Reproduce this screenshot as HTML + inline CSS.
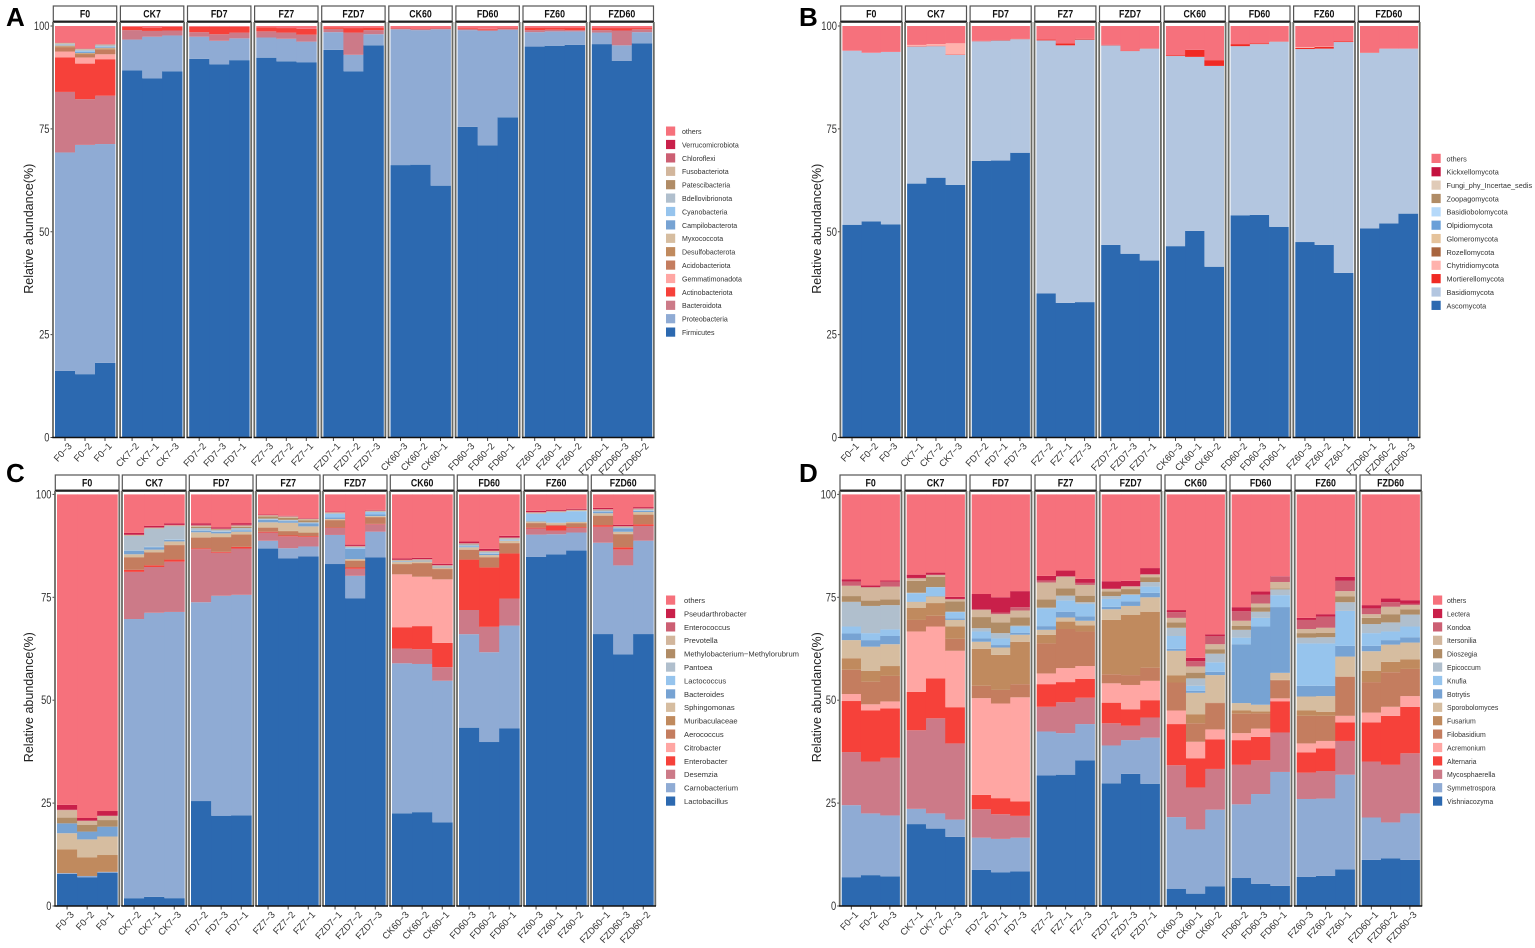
<!DOCTYPE html>
<html lang="en">
<head>
<meta charset="utf-8">
<title>Relative abundance stacked bars</title>
<style>
html,body{margin:0;padding:0;background:#fff;width:1535px;height:948px;overflow:hidden}
svg{display:block;font-family:"Liberation Sans",sans-serif}
</style>
</head>
<body>
<svg id="figure" width="1535" height="948" viewBox="0 0 1535 948" xmlns="http://www.w3.org/2000/svg"></svg>
<script>
/* Shared categories */
const facetNames = ["F0","CK7","FD7","FZ7","FZD7","CK60","FD60","FZ60","FZD60"];
const yTickValues = [0,25,50,75,100];
const yTitle = "Relative abundance(%)";

/* Replicate numbers per facet, in plotted order */
const aReplicates = [3,2,1, 2,1,3, 2,3,1, 3,2,1, 1,2,3, 3,2,1, 3,2,1, 3,1,2, 1,3,2];
const bReplicates = [1,2,3, 1,2,3, 2,1,3, 2,1,3, 2,3,1, 3,1,2, 2,3,1, 3,2,1, 1,2,3];
const cReplicates = [3,2,1, 2,1,3, 2,3,1, 3,2,1, 1,2,3, 3,2,1, 3,2,1, 3,1,2, 1,3,2];
const dReplicates = [1,2,3, 1,2,3, 2,1,3, 2,1,3, 2,3,1, 3,1,2, 2,3,1, 3,2,1, 1,2,3];

/* Panel A: bacterial phyla, bottom to top */
const aTaxa = ["Firmicutes","Proteobacteria","Bacteroidota","Actinobacteriota","Gemmatimonadota","Acidobacteriota","Desulfobacterota","Myxococcota","Campilobacterota","Cyanobacteria","Bdellovibrionota","Patescibacteria","Fusobacteriota","Chloroflexi","Verrucomicrobiota","others"];
const aFirmicutes = [16.2,15.5,18.2,89.2,87.3,89,92,90.7,91.7,92.3,91.4,91.2,94.2,89,95.3,66.2,66.3,61.2,75.5,71,77.8,95,95.2,95.4,95.6,91.5,95.8];
const aProteobacteria = [53,56.1,53.4,7.5,10.1,8.7,5.4,5.7,5.3,4.9,5.5,5,4.3,4,2.7,33,32.7,38,23.5,27.8,21.3,3.5,3.5,3.3,2.8,3.8,2.7];
const aBacteroidota = [14.7,11.2,11.8,2.3,1.4,1.2,1.1,1.6,1.4,1.5,1.5,1.7,.8,5.4,1,.2,.3,.2,.3,.3,.3,.5,.4,.3,.6,3.6,.7];
const aActinobacteriota = [8.4,8.7,8.9,.8,.8,.9,1.3,1.8,1.4,1,1.1,1.4,.4,1.1,.6,.1,.1,.1,.2,.2,.2,.6,.5,.6,.5,.6,.3];
const aGemmatimonadota = [1.4,1.5,1.2,0,0,0,0,0,0,0,0,0,0,0,0,0,0,0,0,0,0,0,0,0,0,0,0];
const aAcidobacteriota = [1,.6,1.1,0,0,0,0,0,0,0,0,0,0,0,0,0,0,0,0,0,0,0,0,0,0,0,0];
const aDesulfobacterota = [.3,.4,.3,0,0,0,0,0,0,0,0,0,0,0,0,0,0,0,0,0,0,0,0,0,0,0,0];
const aMyxococcota = [.2,.1,.2,0,0,0,0,0,0,0,0,0,0,0,0,0,0,0,0,0,0,0,0,0,0,0,0];
const aCampilobacterota = [.1,.3,.2,0,0,0,0,0,0,0,0,0,0,0,0,0,0,0,0,0,0,0,0,0,0,0,0];
const aCyanobacteria = [0,.2,.1,0,0,0,0,0,0,0,0,0,0,0,0,0,0,0,0,0,0,0,0,0,0,0,0];
const aBdellovibrionota = [.3,.3,.3,0,0,0,0,0,0,0,0,0,0,0,0,0,0,0,0,0,0,0,0,0,0,0,0];
const aPatescibacteria = [.1,.1,.1,0,0,0,0,0,0,0,0,0,0,0,0,0,0,0,0,0,0,0,0,0,0,0,0];
const aFusobacteriota = [.1,.1,.1,0,0,0,0,0,0,0,0,0,0,0,0,0,0,0,0,0,0,0,0,0,0,0,0];
const aChloroflexi = [.1,.1,.1,0,0,0,0,0,0,0,0,0,0,0,0,0,0,0,0,0,0,0,0,0,0,0,0];
const aVerrucomicrobiota = [0,0,0,0,0,0,0,0,0,0,0,0,0,0,0,0,0,0,0,0,0,0,0,0,0,0,0];
const aOthers = [4,5.5,4.4,.2,.4,.2,.2,.2,.2,.3,.5,.7,.3,.5,.4,.5,.6,.5,.5,.7,.4,.4,.4,.4,.5,.5,.5];
const aSeries = [aFirmicutes,aProteobacteria,aBacteroidota,aActinobacteriota,aGemmatimonadota,aAcidobacteriota,aDesulfobacterota,aMyxococcota,aCampilobacterota,aCyanobacteria,aBdellovibrionota,aPatescibacteria,aFusobacteriota,aChloroflexi,aVerrucomicrobiota,aOthers];

/* Panel B: fungal phyla, bottom to top */
const bTaxa = ["Ascomycota","Basidiomycota","Mortierellomycota","Chytridiomycota","Rozellomycota","Glomeromycota","Olpidiomycota","Basidiobolomycota","Zoopagomycota","Fungi_phy_Incertae_sedis","Kickxellomycota","others"];
const bAscomycota = [51.7,52.5,51.8,61.7,63.2,61.4,67.2,67.3,69.2,35,32.7,32.9,46.8,44.7,43,46.5,50.2,41.5,54,54.1,51.2,47.5,46.8,40,50.8,52,54.4];
const bBasidiomycota = [42.3,41,41.9,33.3,32,31.6,29.1,29.2,27.6,61.5,62.6,63.8,48.5,49.3,51.5,46.2,42.3,48.8,41.1,41.5,45,46.9,47.7,56.1,42.7,42.5,40.1];
const bMortierellomycota = [0,0,0,.1,.1,.1,.1,.1,.1,.2,.5,.2,.1,.1,.1,.2,1.7,1.4,.5,.2,.1,.3,.4,.2,.1,0,0];
const bChytridiomycota = [0,0,0,.3,.4,2.7,0,0,0,0,0,0,0,0,0,0,0,0,0,0,0,.2,.1,0,0,0,0];
const bRozellomycota = [0,0,0,0,0,0,0,0,0,0,0,0,0,0,0,0,0,0,0,0,0,0,0,0,0,0,0];
const bGlomeromycota = [0,0,0,0,0,0,0,0,0,0,0,0,0,0,0,0,0,0,0,0,0,0,0,0,0,0,0];
const bOlpidiomycota = [0,0,0,0,0,0,0,0,0,0,0,0,0,0,0,0,0,0,0,0,0,0,0,0,0,0,0];
const bBasidiobolomycota = [0,0,0,0,0,0,0,0,0,0,0,0,0,0,0,0,0,0,0,0,0,0,0,0,0,0,0];
const bZoopagomycota = [0,0,0,0,0,0,0,0,0,0,0,0,0,0,0,0,0,0,0,0,0,0,0,0,0,0,0];
const bFungiPhy = [0,0,0,0,0,0,0,0,0,0,0,0,0,0,0,0,0,0,0,0,0,0,0,0,0,0,0];
const bKickxellomycota = [0,0,0,0,0,0,0,0,0,0,0,0,0,0,0,0,0,0,0,0,0,0,0,0,0,0,0];
const bOthers = [6,6.5,6.3,4.6,4.4,4.2,3.6,3.4,3.1,3.3,4.2,3.1,4.6,6,5.4,7.1,5.8,8.3,4.4,4.2,3.7,5.1,5,3.7,6.4,5.5,5.5];
const bSeries = [bAscomycota,bBasidiomycota,bMortierellomycota,bChytridiomycota,bRozellomycota,bGlomeromycota,bOlpidiomycota,bBasidiobolomycota,bZoopagomycota,bFungiPhy,bKickxellomycota,bOthers];

/* Panel C: bacterial genera, bottom to top */
const cTaxa = ["Lactobacillus","Carnobacterium","Desemzia","Enterobacter","Citrobacter","Aerococcus","Muribaculaceae","Sphingomonas","Bacteroides","Lactococcus","Pantoea","Methylobacterium\u2212Methylorubrum","Prevotella","Enterococcus","Pseudarthrobacter","others"];
const cLactobacillus = [7.8,7,8.1,1.9,2.2,1.9,25.5,22,22.1,87.1,84.6,85.3,83.5,74.1,85.1,22.6,22.8,20.4,43.5,40,43.3,85.1,85.6,86.7,66.4,61.3,66.4];
const cCarnobacterium = [.2,.3,.2,68.1,68.9,69.4,48.3,53.6,53.8,1.9,2.5,2.4,7.1,5.4,6.3,36.6,36,34.5,22.8,21.9,25.1,5.4,4.9,4.4,22.3,21.7,22.8];
const cDesemzia = [0,0,0,11.5,11.1,12.2,12.9,10.5,11.3,2,2.9,2.3,1.7,1.7,1.8,3.6,3.6,3.3,5.9,6.2,6.6,1.5,.9,1.1,3.9,3.9,3.6];
const cEnterobacter = [0,0,0,.5,.4,.5,.2,.2,.4,.2,.2,.2,.1,.3,.1,5.2,5.6,5.9,12.3,14.5,11,.2,1.2,.2,.4,.5,.4];
const cCitrobacter = [0,0,0,0,0,0,0,0,0,0,0,0,0,0,0,12.9,12,15.5,0,0,0,0,0,0,0,0,0];
const cAerococcus = [0,0,0,3,3.1,3.5,2.6,3.5,3,1,1,.8,1.8,1.6,1.6,2.5,3.3,2.5,2.4,2.4,2.5,1.1,.2,.9,2.3,3.2,2.3];
const cMuribaculaceae = [5.8,4.5,4.1,.1,.1,.1,.1,.1,.1,.1,.1,.1,.1,.1,.1,.1,.1,.1,.1,.1,.1,.1,.1,.1,.1,.1,.1];
const cSphingomonas = [3.9,4.4,4.5,.7,.6,.8,1.2,.9,.6,1.2,2,1.5,.2,.3,.2,.4,.3,.3,.5,.5,.5,.3,.4,.3,.5,.5,.6];
const cBacteroides = [2.4,1.9,2.4,.8,.6,.4,.4,.4,.3,.6,.4,.7,.4,2.5,.4,.1,.1,.1,.2,.3,.1,.1,.1,.1,.4,.8,.3];
const cLactococcus = [0,0,0,.1,.1,.1,.1,.1,.1,.1,.1,.1,.9,.3,.6,0,0,0,.1,.1,.1,1.8,2.4,2.5,.1,.1,.1];
const cPantoea = [0,0,0,3.6,4.4,3.2,.5,.3,.5,.2,.2,.2,.1,.1,.1,.2,.2,.2,.4,.4,.3,.1,.1,.1,.2,.2,.2];
const cMethylobacterium = [1.4,1.6,1.6,.1,.1,.1,.3,.2,.3,.5,.5,.5,.1,.1,.1,.1,.1,.1,.1,.1,.1,.1,.1,.1,.1,.1,.1];
const cPrevotella = [1.8,1,1,.1,.1,.1,.3,.1,.3,.3,.3,.3,.1,.1,.1,.1,.1,.1,.1,.1,.1,.1,.1,.1,.1,.1,.1];
const cEnterococcus = [.1,.1,.1,.1,.1,.1,.2,.1,.2,.1,.1,.1,.1,.1,.1,.1,.1,.1,.1,.1,.1,.1,.1,.1,.1,.1,.1];
const cPseudarthrobacter = [1.2,.6,1.1,.4,.4,.4,.4,.3,.4,.1,.1,.1,.1,.3,.1,.3,.3,.3,.4,.4,.4,.3,.2,.2,.3,.3,.3];
const cOthers = [75.5,78.7,77,9.4,7.6,7,7,8,7,4.9,5.2,5.8,4.2,12.1,3.8,15.6,15.4,16.9,11.5,13.3,10.1,4,3.8,3.5,3.3,7.4,3.1];
const cSeries = [cLactobacillus,cCarnobacterium,cDesemzia,cEnterobacter,cCitrobacter,cAerococcus,cMuribaculaceae,cSphingomonas,cBacteroides,cLactococcus,cPantoea,cMethylobacterium,cPrevotella,cEnterococcus,cPseudarthrobacter,cOthers];

/* Panel D: fungal genera, bottom to top */
const dTaxa = ["Vishniacozyma","Symmetrospora","Mycosphaerella","Alternaria","Acremonium","Filobasidium","Fusarium","Sporobolomyces","Botrytis","Knufia","Epicoccum","Dioszegia","Itersonilia","Kondoa","Lectera","others"];
const dVishniacozyma = [7,7.5,7.2,19.9,18.8,16.8,8.8,8.2,8.4,31.7,31.9,35.4,29.8,32.1,29.7,4.2,3,4.8,6.8,5.4,4.9,7.1,7.3,8.9,11.2,11.6,11.2];
const dSymmetrospora = [17.5,15,14.8,3.7,3.7,4.2,7.8,8.1,8.2,10.7,10.1,8.8,9.2,8.2,11.2,17.4,15.6,18.6,17.9,21.8,27.7,18.9,18.8,23,10.3,8.7,11.3];
const dMycosphaerella = [12.9,12.6,14,19.1,23.1,18.5,6.9,6,5.3,6,7.5,6.4,5.4,3.5,4.9,12.6,10.2,9.9,9.6,8.2,9.6,6.4,6.7,8.2,13.6,14,14.6];
const dAlternaria = [12.4,12.4,12,9.3,9.7,8.8,3.5,3.9,3.5,5.5,4.9,4.6,5,4,4.2,10,7.1,7.2,6,5.7,7.6,4.9,5.5,4.5,9.5,11.9,11.3];
const dAcremonium = [1.7,1.5,1.7,14.7,12.6,13.7,23.5,23,25.3,2.6,3.4,3.1,4.7,5.9,4.7,3.3,4,2.4,1.7,2,.7,2.2,1.8,1.6,2.4,2.2,2.6];
const dFilobasidium = [5.9,5.5,6.2,2.8,2.6,2.9,3,3.3,3.2,7.3,9.5,8.4,2.2,2.4,3.2,6.8,4.5,6.4,4.7,3.7,4.4,6.7,6.1,9.5,7.4,8.4,6.6];
const dFusarium = [2.8,2.6,2.4,2.9,3.1,3,9,8.5,10.3,2.1,1.8,1.5,13.2,14.6,13.6,1.7,2.2,.1,.8,.5,.1,1.3,1,.1,2.7,2.5,2.3];
const dSporobolomyces = [4.4,5.9,5.3,1.5,1.6,1.6,1.7,1.8,1.7,1.2,1,1.1,2.6,2.2,3.5,6,5.2,6.7,1.8,1.6,1.7,3.4,3.8,4.8,4.8,4.2,4.1];
const dBotrytis = [1.6,1.6,2,.1,.1,.4,.8,.6,.5,.9,1.4,1.1,.6,1.1,1.1,.5,.5,.8,14.3,19,16,2.6,2.5,2.6,1.3,1.1,1.3];
const dKnufia = [1.7,1.7,1.6,2,2.1,1.5,1.7,1.6,1.5,4.3,2.7,3,1.9,1.6,1.5,3.1,1.2,2.3,1.6,2.1,2.9,10.3,10.3,8.5,3.1,2.1,2.6];
const dEpicoccum = [6,6.6,5.9,.1,.1,.1,.8,1.3,.2,.2,1.2,.4,.7,.1,1.1,2,1.8,2.1,1.9,1.5,1.4,1.4,1.5,2.1,2.2,2.2,2.9];
const dDioszegia = [1.4,1.3,1.4,2.9,2.5,2.5,2.7,2.6,2,2,1.8,1.6,1.1,1.3,1.2,1.3,1.4,1.1,1,1.1,.2,1.1,1.1,1.4,1.5,2,1.3];
const dItersonilia = [2.5,3.2,3.1,.6,.4,.5,1.7,2,1.7,4.1,2.8,2.6,.6,.6,.6,1.1,1.5,1.2,1.2,.9,1.6,1,1.2,1.3,.9,1.8,1];
const dKondoa = [1,.1,1.2,.1,.1,.1,.2,.4,.8,.5,.1,.5,.1,.1,.1,1.4,1.3,2,2.3,2.1,1.3,2.2,2.7,2.5,1.4,1.1,.3];
const dLectera = [.6,.4,.3,.8,.5,.5,3.7,3.7,3.9,1.1,1.4,1,1.8,1.3,1.5,.5,.8,.4,1,.8,.1,.5,.6,1,.8,.9,.9];
const dOthers = [20.6,22.1,20.9,19.5,19,24.9,24.2,25,23.5,19.8,18.5,20.5,21.1,21,17.9,28.1,39.7,34,27.4,23.6,19.9,30,29.1,20,26.9,25.3,25.7];
const dSeries = [dVishniacozyma,dSymmetrospora,dMycosphaerella,dAlternaria,dAcremonium,dFilobasidium,dFusarium,dSporobolomyces,dBotrytis,dKnufia,dEpicoccum,dDioszegia,dItersonilia,dKondoa,dLectera,dOthers];

/* Styles and layout, kept apart from the data */
const palette16 = ["#2c69b0","#8fabd4","#cc7a88","#f6413a","#ffa6a3","#c47d5f","#c08a5e","#d6bda0","#77a3d3","#96c4ed","#b0bfcd","#b08c66","#d2b69c","#cc5f73","#c9204a","#f6717c"];
const paletteA = ["#2c69b0","#8fabd4","#cc7a88","#f6413a","#ffa6a3","#c47d5f","#c08a5e","#d6bda0","#77a3d3","#96c4ed","#b0bfcd","#b08c66","#d2b69c","#cc5f73","#c9204a","#f6717c"];
const paletteB = ["#2c69b0","#b3c6e0","#f02a24","#ffb2ad","#a8653f","#e5c39c","#6a9fd8","#b5d9fa","#b08c66","#e0cbb8","#c4123f","#f6717c"];

const panels = [
  {key:"a",letter:"A",letterX:6,letterY:26,replicates:aReplicates,taxa:aTaxa,series:aSeries,colors:paletteA,
   barX:55,barW:60,pitch:67.1,yTop:26,yBot:437.5,stripTop:6,titleX:29,
   legendSwatchX:666,legendTextX:682,legendTop:131,legendStep:13.4,legendFont:7.05},
  {key:"b",letter:"B",letterX:799,letterY:26,replicates:bReplicates,taxa:bTaxa,series:bSeries,colors:paletteB,
   barX:842.4,barW:57.7,pitch:64.7,yTop:26,yBot:437.5,stripTop:6,titleX:817,
   legendSwatchX:1431.5,legendTextX:1446.5,legendTop:158.3,legendStep:13.36,legendFont:7.3},
  {key:"c",letter:"C",letterX:6,letterY:482,replicates:cReplicates,taxa:cTaxa,series:cSeries,colors:palette16,
   barX:57,barW:60.3,pitch:67,yTop:494.4,yBot:906,stripTop:475,titleX:29,
   legendSwatchX:666,legendTextX:684,legendTop:600,legendStep:13.4,legendFont:7.6},
  {key:"d",letter:"D",letterX:799,letterY:482,replicates:dReplicates,taxa:dTaxa,series:dSeries,colors:palette16,
   barX:841.7,barW:57.8,pitch:65,yTop:494.4,yBot:906,stripTop:475,titleX:817,
   legendSwatchX:1433,legendTextX:1447,legendTop:600,legendStep:13.4,legendFont:6.9}
];

const SVGNS = "http://www.w3.org/2000/svg";
const figure = document.getElementById("figure");

function el(tag, attrs, parent, text){
  const node = document.createElementNS(SVGNS, tag);
  for (const k in attrs) node.setAttribute(k, attrs[k]);
  if (text !== undefined) node.textContent = text;
  parent.appendChild(node);
  return node;
}

function drawPanel(p){
  const yScale = v => p.yBot - (v / 100) * (p.yBot - p.yTop);
  const facetX = f => p.barX + f * p.pitch;
  const sampleW = p.barW / 3;
  const sampleX = (f, s) => facetX(f) + s * sampleW;
  const stripBottom = p.stripTop + 15;

  const g = el("g", {}, figure);
  
  

  const letter = el("text", {x:p.letterX, y:p.letterY, "font-size":26, "font-weight":"bold", fill:"#000"}, g, p.letter);
  
  

  const title = el("text", {transform:"translate(" + (p.titleX + 4) + "," + (yScale(50) - 3) + ") rotate(-90)", "text-anchor":"middle", "font-size":12.5, fill:"#222", textLength:130, lengthAdjust:"spacingAndGlyphs"}, g, yTitle);
  
  

  yTickValues.forEach(v => {
    const tick = el("line", {x1:facetX(0) - 4.5, x2:facetX(0) - 1.5, y1:yScale(v), y2:yScale(v), stroke:"#444", "stroke-width":1}, g);
    
    
    const s = String(v);
    const label = el("text", {x:facetX(0) - 5.5, y:yScale(v) + 4, "text-anchor":"end", "font-size":11.5, fill:"#333", textLength:s.length * 5.2, lengthAdjust:"spacingAndGlyphs"}, g, s);
    
    
  });

  facetNames.forEach((name, f) => {
    const left = facetX(f) - 1.7;
    const width = p.barW + 3.4;

    const strip = el("rect", {x:left, y:p.stripTop, width:width, height:15, fill:"#fff", stroke:"#555", "stroke-width":1.2}, g);
    
    
    const stripLabel = el("text", {x:left + width / 2, y:p.stripTop + 11.5, "text-anchor":"middle", "font-size":11, "font-weight":"bold", fill:"#111"}, g, name);
    
    
    stripLabel.setAttribute("lengthAdjust", "spacingAndGlyphs");
    stripLabel.setAttribute("textLength", stripLabel.getComputedTextLength() * 0.8);

    const rule = el("line", {x1:left - 0.5, x2:left + width + 0.5, y1:stripBottom + 1, y2:stripBottom + 1, stroke:"#111", "stroke-width":1.6}, g);
    
    

    const frameL = el("line", {x1:left - 0.3, x2:left - 0.3, y1:stripBottom + 1, y2:p.yBot, stroke:"#6a6a64", "stroke-width":1.8}, g);
    
    
    const frameR = el("line", {x1:left + width + 0.3, x2:left + width + 0.3, y1:stripBottom + 1, y2:p.yBot, stroke:"#6a6a64", "stroke-width":1.8}, g);
    
    

    for (let s = 0; s < 3; s++){
      const idx = f * 3 + s;
      let total = 0;
      p.series.forEach(arr => { total += arr[idx]; });
      let running = 0;
      p.series.forEach((arr, t) => {
        const lo = yScale(running / total * 100);
        running += arr[idx];
        const hi = yScale(running / total * 100);
        const bar = el("rect", {x:sampleX(f, s), y:hi, width:sampleW + 0.4, height:Math.max(0, lo - hi), fill:p.colors[t]}, g);
        
        
      });

      const cx = sampleX(f, s) + sampleW / 2;
      const xTick = el("line", {x1:cx, x2:cx, y1:p.yBot, y2:p.yBot + 3.5, stroke:"#444", "stroke-width":1}, g);
      
      
      const xLabel = el("text", {transform:"translate(" + (cx + 7.5) + "," + (p.yBot + 9) + ") rotate(-47)", "text-anchor":"end", "font-size":9.4, fill:"#333"}, g, name + "\u2212" + p.replicates[idx]);
      
      
    }

    const axis = el("line", {x1:left - 1, x2:left + width + 1, y1:p.yBot, y2:p.yBot, stroke:"#111", "stroke-width":1.6}, g);
    
    
  });

  /* legend: top row is the last taxon */
  const legend = el("g", {}, g);
  
  
  const count = p.taxa.length;
  p.taxa.forEach((taxon, t) => {
    const rowY = p.legendTop + (count - 1 - t) * p.legendStep;
    const swatch = el("rect", {x:p.legendSwatchX, y:rowY - 4.5, width:9.2, height:9.2, fill:p.colors[t]}, legend);
    
    
    const label = el("text", {x:p.legendTextX, y:rowY + 3, "font-size":p.legendFont, fill:"#333"}, legend, taxon);
    
    
  });
}

panels.forEach(drawPanel);
</script>
</body>
</html>
